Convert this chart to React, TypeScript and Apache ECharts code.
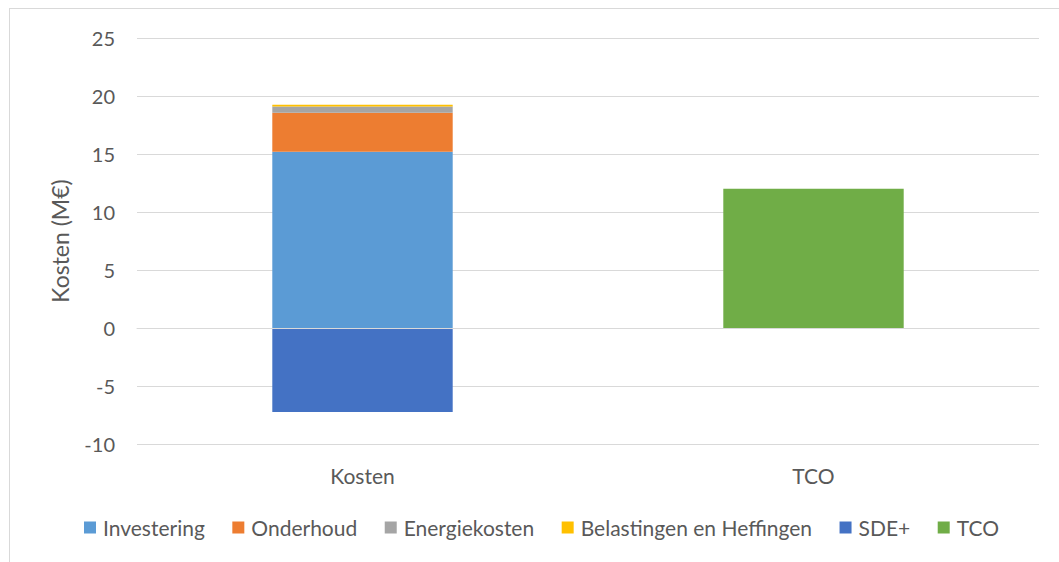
import React, { useEffect, useRef } from "react";
import * as echarts from "echarts";

const categories = ["Kosten", "TCO"];
const investering = [15.2, null];
const onderhoud = [3.35, null];
const energiekosten = [0.55, null];
const belastingen = [0.15, null];
const sde = [-7.25, null];
const tco = [null, 12.0];
const yTicks = { min: -10, max: 25, interval: 5 };

const FONT = "Lato, 'Open Sans', sans-serif";
const TXT = "#595959";

export default function App() {
  const ref = useRef<HTMLDivElement>(null);
  useEffect(() => {
    if (!ref.current) return;
    const chart = echarts.init(ref.current, undefined, { renderer: "svg" });
    const mk = (name: string, data: (number | null)[], color: string) => ({
      name,
      type: "bar",
      stack: "a",
      data: data.map((v) => (v === null ? "-" : v)),
      barWidth: "40%",
      itemStyle: { color },
    });
    chart.setOption({
      animation: false,
      textStyle: { fontFamily: FONT },
      graphic: [
        { type: "line", shape: { x1: 9.5, y1: 8, x2: 9.5, y2: 562 }, style: { stroke: "#d9d9d9", lineWidth: 1 } },
        { type: "line", shape: { x1: 9, y1: 8.5, x2: 1059, y2: 8.5 }, style: { stroke: "#d9d9d9", lineWidth: 1 } },
      ],
      grid: { left: 137, right: 20, top: 38, bottom: 118, containLabel: false },
      legend: {
        left: 84,
        top: 517,
        padding: 0,
        icon: "rect",
        itemWidth: 12,
        itemHeight: 12,
        itemGap: 27.5,
        textStyle: { color: TXT, fontSize: 21, fontFamily: FONT, padding: [0, 0, 0, 2] },
        data: ["Investering", "Onderhoud", "Energiekosten", "Belastingen en Heffingen", "SDE+", "TCO"],
      },
      xAxis: [
        {
          type: "category",
          data: categories,
          position: "bottom",
          axisLine: { show: false, onZero: false },
          axisTick: { show: false },
          axisLabel: { color: TXT, fontSize: 21, margin: 21, fontFamily: FONT },
        },
        {
          type: "category",
          data: categories,
          z: 5,
          axisLine: { show: true, onZero: true, lineStyle: { color: "#d9d9d9", width: 1 } },
          axisTick: { show: false },
          axisLabel: { show: false },
        },
      ],
      yAxis: {
        type: "value",
        min: yTicks.min,
        max: yTicks.max,
        interval: yTicks.interval,
        name: "Kosten (M€)",
        nameLocation: "middle",
        nameGap: 66,
        nameTextStyle: { color: TXT, fontSize: 23, fontFamily: FONT },
        axisLabel: { color: TXT, fontSize: 20, margin: 22, fontFamily: FONT },
        splitLine: { lineStyle: { color: "#d9d9d9", width: 1 } },
        axisLine: { show: false },
        axisTick: { show: false },
      },
      series: [
        mk("Investering", investering, "#5B9BD5"),
        mk("Onderhoud", onderhoud, "#ED7D31"),
        mk("Energiekosten", energiekosten, "#A5A5A5"),
        mk("Belastingen en Heffingen", belastingen, "#FFC000"),
        mk("SDE+", sde, "#4472C4"),
        mk("TCO", tco, "#70AD47"),
      ],
    });
    return () => chart.dispose();
  }, []);
  return (
    <div style={{ position: "fixed", left: 0, top: 0, width: 1059, height: 562, background: "#fff" }}>
      <div ref={ref} style={{ width: 1059, height: 562 }} />
    </div>
  );
}
